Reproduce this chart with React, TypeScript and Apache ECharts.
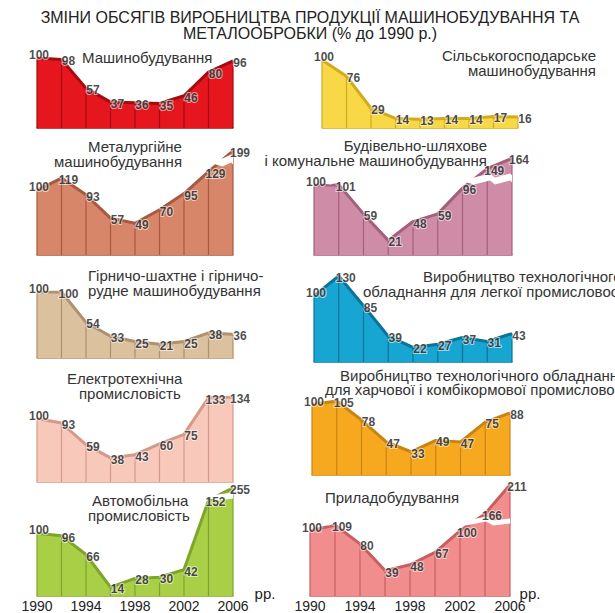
import React, { useEffect, useRef } from 'react';
import * as echarts from 'echarts';

const years = ['1990', '1992', '1994', '1996', '1998', '2000', '2002', '2004', '2006'];
const yearTicks = ['1990', '1994', '1998', '2002', '2006'];
const yearUnit = 'рр.';
const mainTitle = ['ЗМІНИ ОБСЯГІВ ВИРОБНИЦТВА ПРОДУКЦІЇ МАШИНОБУДУВАННЯ ТА', 'МЕТАЛООБРОБКИ (% до 1990 р.)'];

const mashynobuduvannia = [100, 98, 57, 37, 36, 35, 46, 80, 96];
const silskohospodarske = [100, 76, 29, 14, 13, 14, 14, 17, 16];
const metalurhiine = [100, 119, 93, 57, 49, 70, 95, 129, 199];
const budivelnoShliakhove = [100, 101, 59, 21, 48, 59, 96, 149, 164];
const hirnychoShakhtne = [100, 100, 54, 33, 25, 21, 25, 38, 36];
const lehkaPromyslovist = [100, 130, 85, 39, 22, 27, 37, 31, 43];
const elektrotekhnichna = [100, 93, 59, 38, 43, 60, 75, 133, 134];
const kharchovaPromyslovist = [100, 105, 78, 47, 33, 49, 47, 75, 88];
const avtomobilna = [100, 96, 66, 14, 28, 30, 42, 152, 255];
const pryladobuduvannia = [100, 109, 80, 39, 48, 67, 100, 166, 211];

const FONT = "'Liberation Sans', Arial, sans-serif";

type TitleLine = { text: string; x: number; y: number; align?: 'left' | 'center' | 'right' };
type Panel = {
  lines: TitleLine[];
  values: number[];
  color: string;
  edge: string;
  left: number;
  top: number;
  width: number;
  height: number;
  max: number;
  brk?: { start: number; end: number; gap: number };
  unitX?: number;
};

const panels: Panel[] = [
  { lines: [{ text: 'Машинобудування', x: 82, y: 57 }],
    values: mashynobuduvannia, color: '#e5161d', edge: '#a40b10',
    left: 37, top: 58, width: 196, height: 70, max: 100 },
  { lines: [{ text: 'Сільськогосподарське', x: 596, y: 55, align: 'right' }, { text: 'машинобудування', x: 596, y: 70, align: 'right' }],
    values: silskohospodarske, color: '#f8d846', edge: '#d2ab1c',
    left: 322, top: 60, width: 196, height: 68, max: 100 },
  { lines: [{ text: 'Металургійне', x: 135, y: 146, align: 'center' }, { text: 'машинобудування', x: 118, y: 161, align: 'center' }],
    values: metalurhiine, color: '#d8866a', edge: '#a65a40',
    left: 37, top: 147, width: 196, height: 108, max: 205, brk: { start: 140, end: 190, gap: 12 } },
  { lines: [{ text: 'Будівельно-шляхове', x: 487, y: 145, align: 'right' }, { text: 'і комунальне машинобудування', x: 487, y: 160, align: 'right' }],
    values: budivelnoShliakhove, color: '#cf8ca6', edge: '#a35f7c',
    left: 314, top: 154, width: 198, height: 101, max: 170, brk: { start: 105, end: 140, gap: 10 } },
  { lines: [{ text: 'Гірничо-шахтне і гірничо-', x: 88, y: 275 }, { text: 'рудне машинобудування', x: 88, y: 290 }],
    values: hirnychoShakhtne, color: '#dcc19e', edge: '#ad9170',
    left: 37, top: 292, width: 196, height: 66, max: 100 },
  { lines: [{ text: 'Виробництво технологічного', x: 423, y: 276 }, { text: 'обладнання для легкої промисловості', x: 363, y: 291 }],
    values: lehkaPromyslovist, color: '#17a6d1', edge: '#0b7298',
    left: 314, top: 276, width: 198, height: 86, max: 130 },
  { lines: [{ text: 'Електротехнічна', x: 67, y: 378 }, { text: 'промисловість', x: 79, y: 393 }],
    values: elektrotekhnichna, color: '#f8c8bb', edge: '#d39a8a',
    left: 37, top: 397, width: 196, height: 85, max: 134 },
  { lines: [{ text: 'Виробництво технологічного обладнання', x: 340, y: 375 }, { text: 'для харчової і комбікормової промисловості', x: 325, y: 389 }],
    values: kharchovaPromyslovist, color: '#f6a91e', edge: '#c98310',
    left: 312, top: 401, width: 198, height: 74, max: 105 },
  { lines: [{ text: 'Автомобільна', x: 92, y: 500 }, { text: 'промисловість', x: 88, y: 515 }],
    values: avtomobilna, color: '#a9cf47', edge: '#7ea52a',
    left: 37, top: 486, width: 196, height: 111, max: 258, brk: { start: 155, end: 248, gap: 10 }, unitX: 265 },
  { lines: [{ text: 'Приладобудування', x: 325, y: 497 }],
    values: pryladobuduvannia, color: '#f28d8d', edge: '#c85f5f',
    left: 310, top: 482, width: 200, height: 115, max: 215, brk: { start: 112, end: 160, gap: 8 }, unitX: 530 },
];

function buildOption() {
  const grid = panels.map((p) => ({ left: p.left, top: p.top, width: p.width, height: p.height }));
  const xAxis = panels.map((p, i) => ({
    gridIndex: i,
    type: 'category',
    data: years,
    boundaryGap: false,
    axisLine: { show: true, lineStyle: { color: p.edge, width: 1.5 } },
    axisTick: { show: false },
    splitLine: { show: false },
    axisLabel: {
      show: p.unitX !== undefined,
      interval: 0,
      formatter: (v: string) => (yearTicks.includes(v) ? v : ''),
      fontSize: 14,
      color: '#222',
      margin: 3,
      fontFamily: FONT,
    },
  }));
  const yAxis = panels.map((p, i) => {
    const ax: any = {
      gridIndex: i,
      type: 'value',
      min: 0,
      max: p.max,
      axisLine: { show: false },
      axisTick: { show: false },
      axisLabel: { show: false },
      splitLine: { show: false },
    };
    if (p.brk) {
      ax.breaks = [{ start: p.brk.start, end: p.brk.end, gap: p.brk.gap }];
      ax.breakArea = {
        show: true,
        itemStyle: { color: '#ffffff', borderColor: '#ffffff', borderWidth: 0, opacity: 1 },
        zigzagAmplitude: 2,
        zigzagZ: 5,
        expandOnClick: false,
      };
    }
    return ax;
  });
  const series: any[] = [];
  panels.forEach((p, i) => {
    series.push({
      type: 'line',
      xAxisIndex: i,
      yAxisIndex: i,
      data: p.values,
      symbol: 'none',
      silent: true,
      lineStyle: { color: p.edge, width: 3 },
      areaStyle: { color: p.color, opacity: 1 },
      z: 2,
    });
    series.push({
      type: 'bar',
      xAxisIndex: i,
      yAxisIndex: i,
      data: p.values,
      barWidth: 1.2,
      silent: true,
      itemStyle: { color: p.edge },
      z: 3,
    });
    series.push({
      type: 'scatter',
      xAxisIndex: i,
      yAxisIndex: i,
      symbolSize: 2,
      silent: true,
      itemStyle: { color: 'rgba(0,0,0,0)' },
      data: p.values.map((v, j) => ({ value: v, label: { offset: j === 0 ? [2, -3] : [7, 2] } })),
      label: {
        show: true,
        position: 'inside',
        formatter: (q: any) => String(q.value),
        fontSize: 12,
        fontWeight: 'bold',
        color: '#1a1a1a',
        fontFamily: FONT,
        textBorderColor: 'rgba(255,255,255,0.7)',
        textBorderWidth: 2,
      },
      z: 10,
    });
  });

  const graphic: any[] = [
    {
      type: 'text',
      x: 310,
      y: 9,
      style: {
        text: mainTitle.join('\n'),
        font: `16px ${FONT}`,
        fill: '#222',
        align: 'center',
        verticalAlign: 'top',
        lineHeight: 16,
      },
    },
  ];
  panels.forEach((p) => {
    p.lines.forEach((l) => {
      graphic.push({
        type: 'text',
        x: l.x,
        y: l.y,
        z: 20,
        style: {
          text: l.text,
          font: `15px ${FONT}`,
          fill: '#333',
          align: l.align || 'left',
          verticalAlign: 'middle',
        },
      });
    });
    if (p.unitX !== undefined) {
      graphic.push({
        type: 'text',
        x: p.unitX,
        y: 593,
        style: { text: yearUnit, font: `15px ${FONT}`, fill: '#222', align: 'center', verticalAlign: 'middle' },
      });
    }
  });

  return {
    animation: false,
    backgroundColor: '#ffffff',
    grid,
    xAxis,
    yAxis,
    series,
    graphic,
  };
}

export default function App() {
  const ref = useRef<HTMLDivElement>(null);
  useEffect(() => {
    if (!ref.current) return;
    const chart = echarts.init(ref.current, undefined, { renderer: 'svg' });
    chart.setOption(buildOption() as any);
    return () => chart.dispose();
  }, []);
  return (
    <div
      ref={ref}
      style={{ position: 'absolute', left: 0, top: 0, width: 615, height: 613, background: '#fff' }}
    />
  );
}
